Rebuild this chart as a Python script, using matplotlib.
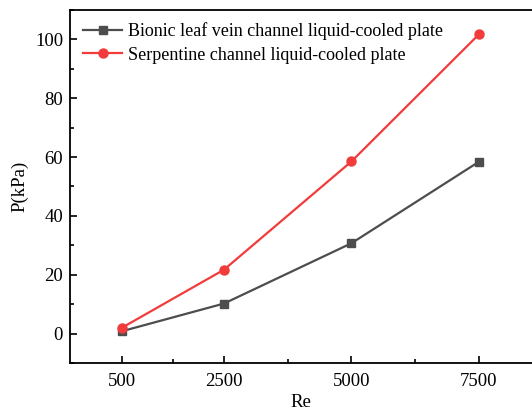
import matplotlib
matplotlib.use("Agg")
import matplotlib.pyplot as plt
from matplotlib.ticker import FixedLocator, MultipleLocator

# Données
re_values = [500, 2500, 5000, 7500]
bionic_p = [0.8, 10.2, 30.7, 58.4]
serpentine_p = [2.0, 21.7, 58.5, 101.7]
labels = ["Bionic leaf vein channel liquid-cooled plate",
          "Serpentine channel liquid-cooled plate"]

plt.rcParams["font.family"] = ["Liberation Serif", "DejaVu Serif"]

fig = plt.figure(figsize=(5.32, 4.12), dpi=100)
ax = fig.add_axes([0.1316, 0.119, 0.8684, 0.857])

ax.plot(re_values, bionic_p, color="#4d4d4d", marker="s", markersize=6,
        linewidth=1.6, label=labels[0])
ax.plot(re_values, serpentine_p, color="#f23b3b", marker="o", markersize=6.5,
        linewidth=1.6, label=labels[1])

ax.set_xlim(-520, 8540)
ax.set_ylim(-10, 110)
ax.xaxis.set_major_locator(FixedLocator(re_values))
ax.xaxis.set_minor_locator(FixedLocator([1500, 3750, 6250]))
ax.yaxis.set_major_locator(MultipleLocator(20))
ax.yaxis.set_minor_locator(MultipleLocator(10))

ax.tick_params(which="both", direction="in", labelsize=13.5, width=1.2)
ax.tick_params(which="major", length=5)
ax.tick_params(which="minor", length=3)
ax.tick_params(axis="x", pad=7)
ax.tick_params(axis="y", pad=5)

for side in ["left", "bottom", "top"]:
    ax.spines[side].set_linewidth(1.3)
ax.spines["right"].set_visible(False)

ax.set_xlabel("Re", fontsize=13.5, labelpad=3)
ax.set_ylabel("P(kPa)", fontsize=13.5, labelpad=5)

ax.legend(loc="upper left", frameon=False, fontsize=13, handlelength=2.2,
          handletextpad=0.3, borderaxespad=0.3, labelspacing=0.35)

fig.savefig("out.png", dpi=100)
